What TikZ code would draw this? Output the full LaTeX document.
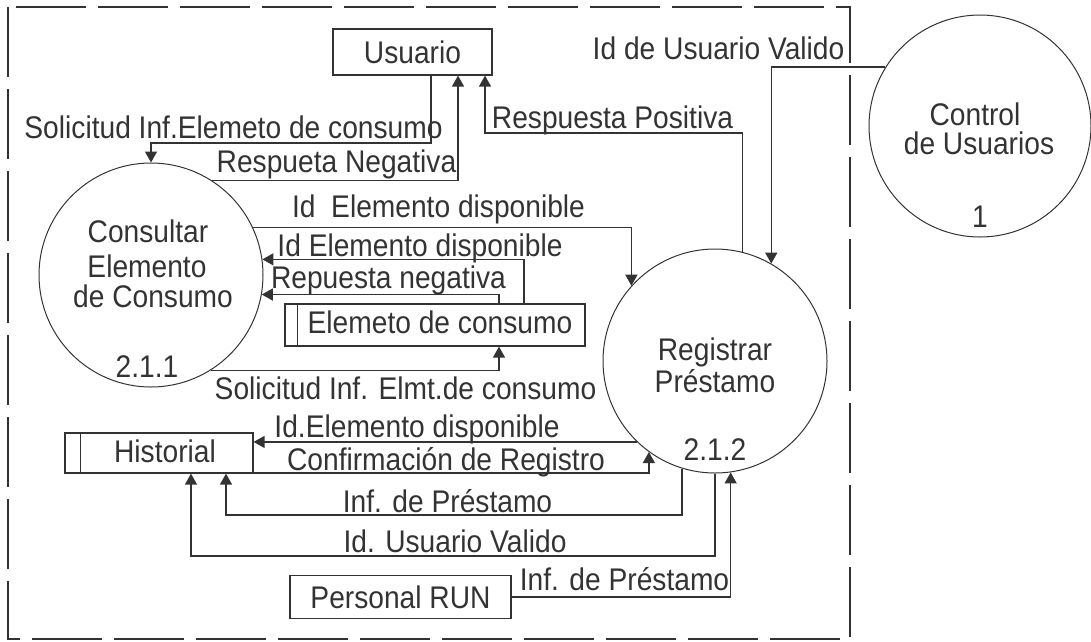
\documentclass[tikz,border=0pt]{standalone}
\usepackage{fontspec}
\setmainfont[FakeStretch=0.9]{Liberation Sans}
\usetikzlibrary{arrows.meta}
\usetikzlibrary{positioning}

\begin{document}
\begin{tikzpicture}[x=1pt, y=-1pt, line width=1.4pt, color=black!80,
        font=\fontsize{31.3}{34}\selectfont,
        flow/.style={-{Triangle[length=11pt,width=12pt]}},
        proc/.style={draw, circle, minimum size=224pt, inner sep=0pt, line width=1pt},
        ent/.style={draw, rectangle, inner sep=0pt, line width=1.2pt, text height=22.4pt, text depth=0pt},
        lbl/.style={anchor=base, inner sep=0pt},
        inlbl/.style={inner sep=0pt, text height=22.4pt, text depth=0pt}]
        \useasboundingbox (0,0) rectangle (1091,641);
        \draw[dash pattern=on 70pt off 12pt] (8,7) rectangle (850,639);

        \node[ent, minimum width=159pt, minimum height=46pt] (usr) at (412.5,52) {Usuario};
        \node[ent, minimum width=300pt, minimum height=42pt,
            label={[inlbl, xshift=5pt, yshift=3pt]center:Elemeto de consumo}] (elem) at (435,325) {};
        \draw ([xshift=13pt]elem.north west) -- ([xshift=13pt]elem.south west);
        \node[ent, minimum width=188pt, minimum height=40pt,
            label={[inlbl, xshift=6pt, yshift=2pt]center:Historial}] (hist) at (159,453) {};
        \draw ([xshift=16pt]hist.north west) -- ([xshift=16pt]hist.south west);
        \node[ent, minimum width=221pt, minimum height=43pt] (run) at (400.5,597) {Personal RUN};

        \node[proc] (cons) at (151,275) {};
        \node[lbl] (cons-t1) at (148,242) {Consultar};
        \node[lbl] (cons-t2) at (147,277) {Elemento};
        \node[lbl] (cons-t3) at (153,307) {de Consumo};
        \node[lbl] (cons-num) at (147,377) {2.1.1};
        \node[proc] (reg) at (715,361) {};
        \node[lbl] (reg-t1) at (715,360) {Registrar};
        \node[lbl] (reg-t2) at (715,392) {Préstamo};
        \node[lbl] (reg-num) at (715,460) {2.1.2};
        \node[proc, minimum size=222pt] (ctrl) at (980,126) {};
        \node[lbl] (ctrl-t1) at (975,125) {Control};
        \node[lbl] (ctrl-t2) at (979,154) {de Usuarios};
        \node[lbl] (ctrl-num) at (980,227) {1};

        \coordinate (a1) at (431,143);
        \coordinate (a2) at (458,0);
        \coordinate (a3) at (485,133);
        \coordinate (a6) at (524,0);
        \coordinate (a7) at (499,0);
        \coordinate (a10) at (0,473);
        \coordinate (a11) at (226,515);
        \coordinate (a12) at (191,556);

        \draw[flow] (a1 |- usr.south) -- (a1) -| (cons.north);
        \draw[flow] (cons.57) -| (a2 |- usr.south);
        \draw[flow] (reg.76) |- (a3) -- (a3 |- usr.south);
        \draw[flow] (ctrl.148) -| (reg.60);
        \draw[flow] (cons.25) -| (reg.138);
        \draw[flow] (elem.north -| a6) |- (cons.8);
        \draw[flow] (elem.north -| a7) |- (cons.350);
        \draw[flow] (cons.302) -| (elem.south -| a7);
        \draw[flow] (reg.226) -- (reg.226 -| hist.east);
        \draw[flow] (hist.east |- a10) -| (reg.234);
        \draw[flow] (reg.253) |- (a11) -- (a11 |- hist.south);
        \draw[flow] (reg.south) |- (a12) -- (a12 |- hist.south);
        \draw[flow] (run.east) -| (reg.278);

        \node[lbl] (l1) at (233.5,138) {Solicitud Inf.Elemeto de consumo};
        \node[lbl] (l2) at (336.5,172) {Respueta Negativa};
        \node[lbl] (l3) at (612.5,128) {Respuesta Positiva};
        \node[lbl] (l4) at (718.5,59) {Id de Usuario Valido};
        \node[lbl] (l5) at (438.5,217) {Id\ \ Elemento disponible};
        \node[lbl] (l6) at (420,256) {Id Elemento disponible};
        \node[lbl] (l7) at (388.5,288) {Repuesta negativa};
        \node[lbl] (l8) at (405.5,399) {Solicitud Inf. Elmt.de consumo};
        \node[lbl] (l9) at (417,437) {Id.Elemento disponible};
        \node[lbl] (l10) at (446,470) {Confirmación de Registro};
        \node[lbl] (l11) at (447.5,512) {Inf. de Préstamo};
        \node[lbl] (l12) at (455,552) {Id. Usuario Valido};
        \node[lbl] (l13) at (624.5,590) {Inf. de Préstamo};
    \end{tikzpicture}
\end{document}
